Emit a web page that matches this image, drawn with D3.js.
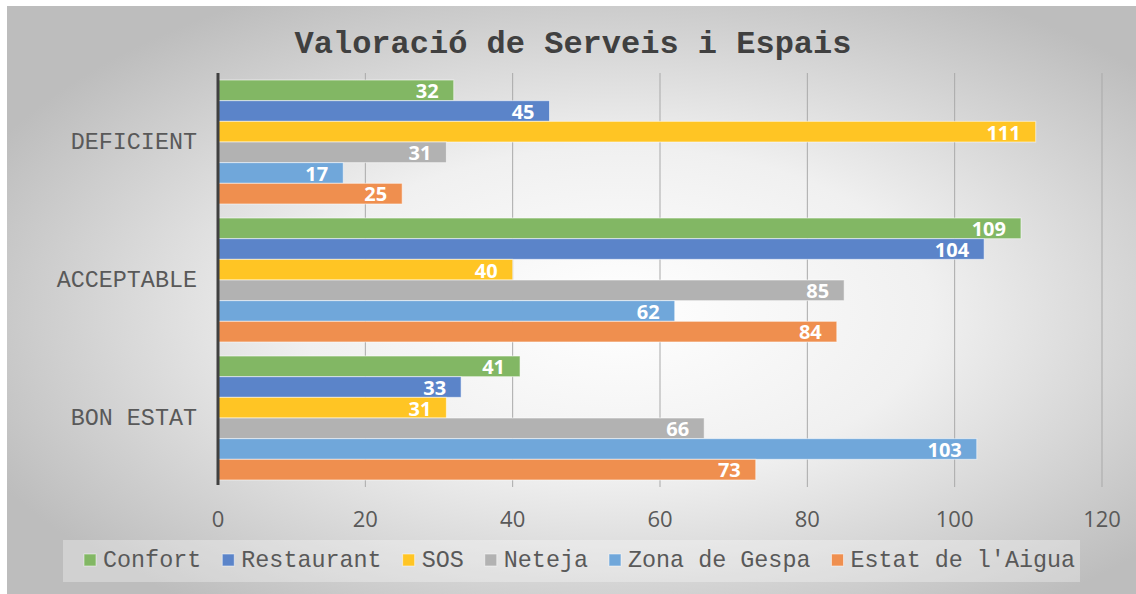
<!DOCTYPE html>
<html>
<head>
<meta charset="utf-8">
<script src="https://cdn.jsdelivr.net/npm/d3@7"></script>
<style>
  html, body { margin: 0; padding: 0; background: #fff; }
  svg { display: block; }
</style>
</head>
<body>
<svg id="chart"></svg>
<script>
// data
const categories = ["DEFICIENT", "ACCEPTABLE", "BON ESTAT"];
const seriesNames = ["Confort", "Restaurant", "SOS", "Neteja", "Zona de Gespa", "Estat de l'Aigua"];
const confort = [32, 109, 41];
const restaurant = [45, 104, 33];
const sos = [111, 40, 31];
const neteja = [31, 85, 66];
const zonaGespa = [17, 62, 103];
const estatAigua = [25, 84, 73];
const xTicks = [0, 20, 40, 60, 80, 100, 120];
const colors = ["#82b764", "#5b84c9", "#ffc524", "#b2b2b2", "#70a7da", "#ef8f4f"];

const seriesValues = [confort, restaurant, sos, neteja, zonaGespa, estatAigua];

const monoFont = "'Courier New', 'Nimbus Mono PS', 'FreeMono', 'Liberation Mono', monospace";

const width = 1136, height = 594;
const plot = {left: 218, right: 1102, top: 73, bottom: 487};

const svg = d3.select("#chart")
    .attr("width", width)
    .attr("height", height);

// background gradient like the office chart style
const defs = svg.append("defs");
const grad = defs.append("radialGradient")
    .attr("id", "bg")
    .attr("cx", "54%").attr("cy", "52%").attr("r", "62%");
grad.append("stop").attr("offset", "0%").attr("stop-color", "#ffffff");
grad.append("stop").attr("offset", "45%").attr("stop-color", "#f0f0f0");
grad.append("stop").attr("offset", "100%").attr("stop-color", "#bdbdbd");

svg.append("rect")
    .attr("x", 7).attr("y", 6)
    .attr("width", width - 7).attr("height", height - 6)
    .attr("fill", "url(#bg)");

const x = d3.scaleLinear()
    .domain([0, 120])
    .range([plot.left, plot.right]);

const y0 = d3.scaleBand()
    .domain(categories)
    .range([plot.top, plot.bottom]);

const y1 = d3.scaleBand()
    .domain(seriesNames)
    .range([0, y0.bandwidth()])
    .paddingOuter(0.34);

// gridlines
svg.append("g")
    .selectAll("line")
    .data(xTicks.slice(1))
    .join("line")
    .attr("x1", d => x(d)).attr("x2", d => x(d))
    .attr("y1", plot.top).attr("y2", plot.bottom)
    .attr("stroke", "#a9a9a9")
    .attr("stroke-width", 1);

// bars
const groups = svg.append("g")
    .selectAll("g")
    .data(categories)
    .join("g")
    .attr("transform", d => `translate(0,${y0(d)})`);

const barData = (c, ci) => seriesNames.map((s, si) => ({series: s, value: seriesValues[si][ci], color: colors[si]}));

groups.each(function(c, ci) {
    const g = d3.select(this);
    const rows = barData(c, ci);

    g.selectAll("rect")
        .data(rows)
        .join("rect")
        .attr("x", x(0))
        .attr("y", d => y1(d.series))
        .attr("width", d => x(d.value) - x(0))
        .attr("height", y1.bandwidth())
        .attr("fill", d => d.color)
        .attr("stroke", "rgba(255,255,255,0.55)")
        .attr("stroke-width", 1);

    g.selectAll("text")
        .data(rows)
        .join("text")
        .attr("x", d => x(d.value) - 15)
        .attr("y", d => y1(d.series) + y1.bandwidth() - 2.5)
        .attr("text-anchor", "end")
        .attr("fill", "#fff")
        .style("font-family", "'Open Sans', sans-serif")
        .style("font-weight", "bold")
        .style("font-size", "20px")
        .text(d => d.value);
});

// axis line at zero
svg.append("line")
    .attr("x1", x(0)).attr("x2", x(0))
    .attr("y1", plot.top).attr("y2", plot.bottom - 2)
    .attr("stroke", "#404040")
    .attr("stroke-width", 3);

// x tick labels
svg.append("g")
    .selectAll("text")
    .data(xTicks)
    .join("text")
    .attr("x", d => x(d))
    .attr("y", 527)
    .attr("text-anchor", "middle")
    .attr("fill", "#595959")
    .style("font-family", "'Open Sans', sans-serif")
    .style("font-size", "22px")
    .text(d => d);

// category labels
svg.append("g")
    .selectAll("text")
    .data(categories)
    .join("text")
    .attr("x", 197)
    .attr("y", d => y0(d) + y0.bandwidth() / 2)
    .attr("dy", "0.32em")
    .attr("text-anchor", "end")
    .attr("fill", "#595959")
    .style("font-family", monoFont)
    .style("font-size", "23.4px")
    .text(d => d);

// title
svg.append("text")
    .attr("x", 573)
    .attr("y", 53)
    .attr("text-anchor", "middle")
    .attr("fill", "#404040")
    .style("font-family", monoFont)
    .style("font-weight", "bold")
    .style("font-size", "32px")
    .text("Valoració de Serveis i Espais");

// legend
const legend = svg.append("g");
legend.append("rect")
    .attr("x", 63).attr("y", 540)
    .attr("width", 1017).attr("height", 42)
    .attr("fill", "rgba(255,255,255,0.3)");

let lx = 84;
seriesNames.forEach((s, i) => {
    legend.append("rect")
        .attr("x", lx).attr("y", 554)
        .attr("width", 12).attr("height", 12)
        .attr("fill", colors[i])
        .attr("stroke", "rgba(255,255,255,0.5)")
        .attr("stroke-width", 1);
    const t = legend.append("text")
        .attr("x", lx + 19)
        .attr("y", 567)
        .attr("fill", "#595959")
        .style("font-family", monoFont)
        .style("font-size", "23.4px")
        .text(s);
    lx += 19 + t.node().getComputedTextLength() + 21;
});
</script>
</body>
</html>
